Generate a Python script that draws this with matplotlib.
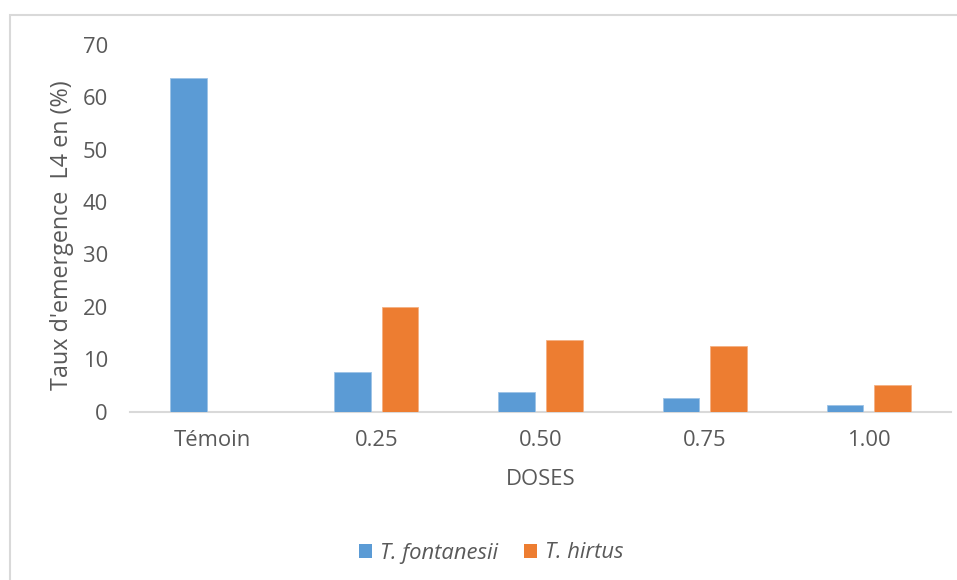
import matplotlib
matplotlib.use("Agg")
import matplotlib.pyplot as plt
from matplotlib.patches import Rectangle, Patch
import numpy as np

# Emergence rate of L4 larvae per dose
doses = ["Témoin", "0.25", "0.50", "0.75", "1.00"]
fontanesii = [63.75, 7.5, 3.75, 2.5, 1.25]
hirtus = [0.0, 20.0, 13.75, 12.5, 5.0]
series_names = ["T. fontanesii", "T. hirtus"]
yticks = [0, 10, 20, 30, 40, 50, 60, 70]

BLUE = "#5B9BD5"
ORANGE = "#ED7D31"
TEXT = "#595959"
GRID = "#D9D9D9"
FS = 15.8

plt.rcParams["font.family"] = ["Open Sans", "DejaVu Sans"]

W, H = 957, 580
fig = plt.figure(figsize=(W / 100, H / 100), dpi=100)
fig.patch.set_facecolor("white")

# chart frame
frame = Rectangle((10 / W, -0.1), 2.0, (H - 15) / H + 0.1, transform=fig.transFigure,
                  fill=False, edgecolor=GRID, linewidth=1.5)
fig.patches.append(frame)

x0, x1 = 130, 951
ybase, ytop = 411.5, 45
ax = fig.add_axes([x0 / W, 1 - ybase / H, (x1 - x0) / W, (ybase - ytop) / H])

x = np.arange(len(doses))
bw = 0.223
off = 0.145
ax.bar(x - off, fontanesii, width=bw, color=BLUE, edgecolor="#9DC3E6", linewidth=0.6, zorder=3)
ax.bar(x + off, hirtus, width=bw, color=ORANGE, edgecolor="#F4B183", linewidth=0.6, zorder=3)

ax.set_xlim(-0.5, len(doses) - 0.5)
ax.set_ylim(0, 70)
ax.set_yticks(yticks)
ax.set_xticks(x)
ax.set_xticklabels(doses)

for s in ["top", "right", "left"]:
    ax.spines[s].set_visible(False)
ax.spines["bottom"].set_color(GRID)
ax.spines["bottom"].set_linewidth(1.5)
ax.tick_params(axis="both", length=0, colors=TEXT, labelsize=FS)
ax.tick_params(axis="x", pad=13.5)
ax.tick_params(axis="y", pad=16)

ax.set_xlabel("DOSES", fontsize=FS, color=TEXT, labelpad=13)
fig.text(62 / W, 1 - 235 / H, "Taux d'emergence  L4 en (%)", rotation=90,
         ha="center", va="center", fontsize=16.8, color=TEXT)

handles = [Patch(facecolor=BLUE, edgecolor="none"), Patch(facecolor=ORANGE, edgecolor="none")]
fig.legend(handles, series_names, loc="center", bbox_to_anchor=(491.5 / W, 1 - 553 / H),
           ncol=2, frameon=False, handlelength=0.6, handleheight=0.6,
           handletextpad=0.36, columnspacing=1.18,
           prop={"size": FS, "style": "italic", "family": ["Open Sans", "DejaVu Sans"]},
           labelcolor=TEXT)

fig.savefig("out.png", dpi=100, facecolor="white")
